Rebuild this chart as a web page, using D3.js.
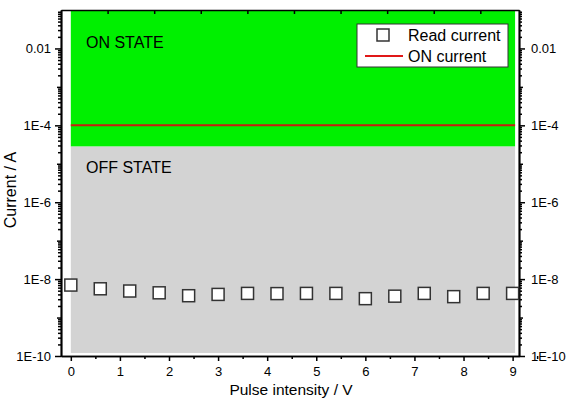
<!DOCTYPE html>
<html>
<head>
<meta charset="utf-8">
<script src="https://cdn.jsdelivr.net/npm/d3@7"></script>
<style>
  body { margin: 0; background: #fff; }
  svg { display: block; font-family: "Liberation Sans", Arial, sans-serif; }
  .axis path, .axis line { stroke: #000; stroke-width: 1.5; }
  .axis text { font-size: 13px; fill: #000; font-family: "Liberation Sans", Arial, sans-serif; }
</style>
</head>
<body>
<div id="chart"></div>
<script>
// data
const pulseV = [0, 0.6, 1.2, 1.8, 2.4, 3.0, 3.6, 4.2, 4.8, 5.4, 6.0, 6.6, 7.2, 7.8, 8.4, 9.0];
const readCurrent = [7.0e-9, 5.6e-9, 4.9e-9, 4.4e-9, 3.7e-9, 4.0e-9, 4.25e-9, 4.2e-9,
                     4.25e-9, 4.25e-9, 3.1e-9, 3.6e-9, 4.25e-9, 3.5e-9, 4.25e-9, 4.25e-9];
const onCurrent = 1e-4;
const stateBoundary = 2.8e-5;
const stateXRange = [0, 9.05];
const xTicks = [0, 1, 2, 3, 4, 5, 6, 7, 8, 9];
const yTickValues = [1e-10, 1e-8, 1e-6, 1e-4, 1e-2];
const yTickLabels = ['1E-10', '1E-8', '1E-6', '1E-4', '0.01'];

const width = 567;
const height = 400;

const svg = d3.select('#chart')
  .append('svg')
  .attr('width', width)
  .attr('height', height);

const x = d3.scaleLinear().domain([-0.2, 9.13]).range([61, 519]);
const y = d3.scaleLog().domain([1e-10, 1e-1]).range([356, 10]);
// top axis has its own unlabeled ticks
const xTop = d3.scaleLinear().domain([0, 9.83]).range([61, 519]);

// background state regions
svg.append('rect')
  .attr('x', x(stateXRange[0]))
  .attr('width', x(stateXRange[1]) - x(stateXRange[0]))
  .attr('y', y(1e-1))
  .attr('height', y(stateBoundary) - y(1e-1))
  .attr('fill', '#00f000');

svg.append('rect')
  .attr('x', x(stateXRange[0]))
  .attr('width', x(stateXRange[1]) - x(stateXRange[0]))
  .attr('y', y(stateBoundary))
  .attr('height', y(1.2e-10) - y(stateBoundary))
  .attr('fill', '#d3d3d3');

svg.append('line')
  .attr('x1', x(stateXRange[0]))
  .attr('x2', x(stateXRange[1]))
  .attr('y1', y(onCurrent))
  .attr('y2', y(onCurrent))
  .attr('stroke', '#c81e10')
  .attr('stroke-width', 2);

svg.append('text').attr('x', 86).attr('y', 48)
  .attr('font-size', 16).text('ON STATE');
svg.append('text').attr('x', 86).attr('y', 173)
  .attr('font-size', 16).text('OFF STATE');

// minor/medium log ticks
const minorTicks = [];
const mediumTicks = [];
for (let d = -10; d < -1; d++) {
  if (d % 2 !== 0) mediumTicks.push(Math.pow(10, d));
  for (let k = 2; k <= 9; k++) minorTicks.push(k * Math.pow(10, d));
}

const fmtY = v => yTickLabels[yTickValues.indexOf(v)];

// left axis
svg.append('g').attr('class', 'axis').attr('transform', `translate(${x.range()[0]},0)`)
  .call(d3.axisLeft(y).tickValues(yTickValues).tickFormat(fmtY).tickSize(6).tickSizeOuter(0).tickPadding(4));
svg.append('g').attr('class', 'axis').attr('transform', `translate(${x.range()[0]},0)`)
  .call(d3.axisLeft(y).tickValues(mediumTicks).tickFormat('').tickSize(4).tickSizeOuter(0));
svg.append('g').attr('class', 'axis').attr('transform', `translate(${x.range()[0]},0)`)
  .call(d3.axisLeft(y).tickValues(minorTicks).tickFormat('').tickSize(3).tickSizeOuter(0));

// right axis
svg.append('g').attr('class', 'axis').attr('transform', `translate(${x.range()[1]},0)`)
  .call(d3.axisRight(y).tickValues(yTickValues).tickFormat(fmtY).tickSize(6).tickSizeOuter(0).tickPadding(6));
svg.append('g').attr('class', 'axis').attr('transform', `translate(${x.range()[1]},0)`)
  .call(d3.axisRight(y).tickValues(mediumTicks).tickFormat('').tickSize(4).tickSizeOuter(0));
svg.append('g').attr('class', 'axis').attr('transform', `translate(${x.range()[1]},0)`)
  .call(d3.axisRight(y).tickValues(minorTicks).tickFormat('').tickSize(3).tickSizeOuter(0));

// bottom axis
svg.append('g').attr('class', 'axis').attr('transform', `translate(0,${y.range()[0]})`)
  .call(d3.axisBottom(x).tickValues(xTicks).tickFormat(d3.format('d')).tickSize(5).tickSizeOuter(0).tickPadding(6));
svg.append('g').attr('class', 'axis').attr('transform', `translate(0,${y.range()[0]})`)
  .call(d3.axisBottom(x).tickValues(xTicks.map(t => t + 0.5)).tickFormat('').tickSize(3).tickSizeOuter(0));

// top axis, ticks inward
svg.append('g').attr('class', 'axis').attr('transform', `translate(0,${y.range()[1]})`)
  .call(d3.axisBottom(xTop).tickValues(d3.range(1, 10)).tickFormat('').tickSize(4).tickSizeOuter(0));

// read current markers
svg.selectAll('rect.pt')
  .data(pulseV)
  .enter()
  .append('rect')
  .attr('class', 'pt')
  .attr('x', (d, i) => x(d) - 6)
  .attr('y', (d, i) => y(readCurrent[i]) - 6)
  .attr('width', 12)
  .attr('height', 12)
  .attr('fill', '#fff')
  .attr('stroke', '#333')
  .attr('stroke-width', 1.5);

// legend
const lg = svg.append('g');
lg.append('rect').attr('x', 357).attr('y', 24).attr('width', 151).attr('height', 43)
  .attr('fill', '#fff').attr('stroke', '#333').attr('stroke-width', 1);
lg.append('rect').attr('x', 377).attr('y', 29).attr('width', 12).attr('height', 12)
  .attr('fill', '#fff').attr('stroke', '#333').attr('stroke-width', 1.5);
lg.append('text').attr('x', 408).attr('y', 41).attr('font-size', 16).text('Read current');
lg.append('line').attr('x1', 365).attr('x2', 403).attr('y1', 56).attr('y2', 56)
  .attr('stroke', '#e01818').attr('stroke-width', 2);
lg.append('text').attr('x', 408).attr('y', 62).attr('font-size', 16).text('ON current');

// axis titles
svg.append('text')
  .attr('transform', 'translate(16,190) rotate(-90)')
  .attr('text-anchor', 'middle')
  .attr('font-size', 16)
  .text('Current / A');
svg.append('text')
  .attr('x', 291).attr('y', 395)
  .attr('text-anchor', 'middle')
  .attr('font-size', 15.5)
  .text('Pulse intensity / V');
</script>
</body>
</html>
